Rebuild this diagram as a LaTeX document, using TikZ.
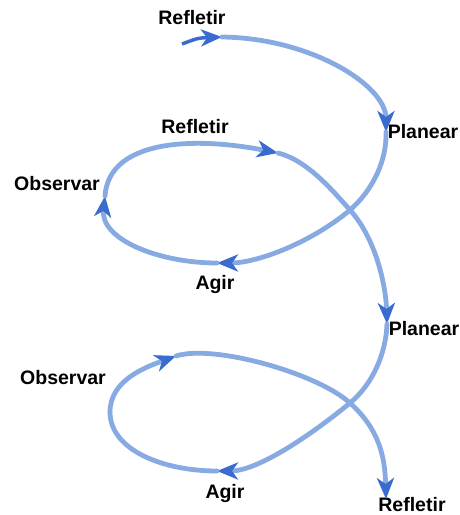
\documentclass[tikz,border=0pt]{standalone}
\usepackage{fontspec}
\setmainfont{Liberation Sans}
\usetikzlibrary{arrows.meta}
\definecolor{lineblue}{RGB}{136,170,226}
\definecolor{tipblue}{RGB}{58,108,208}

\begin{document}
\begin{tikzpicture}[
  x=1pt, y=-1pt,
  spiral/.style  = {draw=lineblue, line width=4.8pt, line cap=round},
  arrowed/.style = {-{Stealth[length=21pt, width=17pt, inset=6pt, color=tipblue]}},
  stage/.style   = {font=\bfseries\fontsize{19.5}{22}\selectfont, inner sep=0pt},
]
  \useasboundingbox (0,0) rectangle (460,515);

  % points on the spiral: arrow tips and the two crossings
  \coordinate (start) at (182,44);
  \coordinate (r1)    at (222,37);
  \coordinate (p1)    at (386,132);
  \coordinate (x1)    at (350,210);
  \coordinate (g1)    at (217,263);
  \coordinate (o1)    at (105,196);
  \coordinate (r2)    at (278,153);
  \coordinate (p2)    at (387,324);
  \coordinate (x2)    at (350,403);
  \coordinate (g2)    at (217,471);
  \coordinate (l2)    at (110,412);
  \coordinate (o2)    at (176,356);
  \coordinate (stop)  at (386,499);

  \node[stage] (refletirA) at (192,18)  {Refletir};
  \node[stage] (planearA)  at (423,132) {Planear};
  \node[stage] (refletirB) at (195,127) {Refletir};
  \node[stage] (observarA) at (57,184)  {Observar};
  \node[stage] (agirA)     at (215,284) {Agir};
  \node[stage] (planearB)  at (424,329) {Planear};
  \node[stage] (observarB) at (63,378)  {Observar};
  \node[stage] (agirB)     at (225,493) {Agir};
  \node[stage] (refletirC) at (412,505) {Refletir};

  % upper turn
  \draw[tipblue, line width=3.5pt, arrowed] (start) .. controls (198,38) .. (r1);
  \draw[spiral, arrowed] (r1) .. controls (310,38) and (386,85) .. (p1);
  \draw[spiral] (p1) .. controls (387,160) and (373,190) .. (x1);
  \draw[spiral, arrowed] (x1) .. controls (312,242) and (258,263) .. (g1);
  \draw[spiral, arrowed] (g1) .. controls (160,263) and (100,240) .. (o1);
  \draw[spiral, arrowed] (o1) .. controls (109,138) and (198,137) .. (r2);
  \draw[spiral] (r2) .. controls (307,160) and (333,191) .. (x1);
  \draw[spiral, arrowed] (x1) .. controls (377,240) and (386,288) .. (p2);

  % lower turn
  \draw[spiral] (p2) .. controls (386,353) and (373,384) .. (x2);
  \draw[spiral, arrowed] (x2) .. controls (311,435) and (258,471) .. (g2);
  \draw[spiral] (g2) .. controls (163,471) and (110,450) .. (l2);
  \draw[spiral, arrowed] (l2) .. controls (110,380) and (146,367) .. (o2);
  \draw[spiral] (o2) .. controls (213,344) and (317,373) .. (x2);
  \draw[spiral, arrowed] (x2) .. controls (380,430) and (385,458) .. (stop);
\end{tikzpicture}
\end{document}
